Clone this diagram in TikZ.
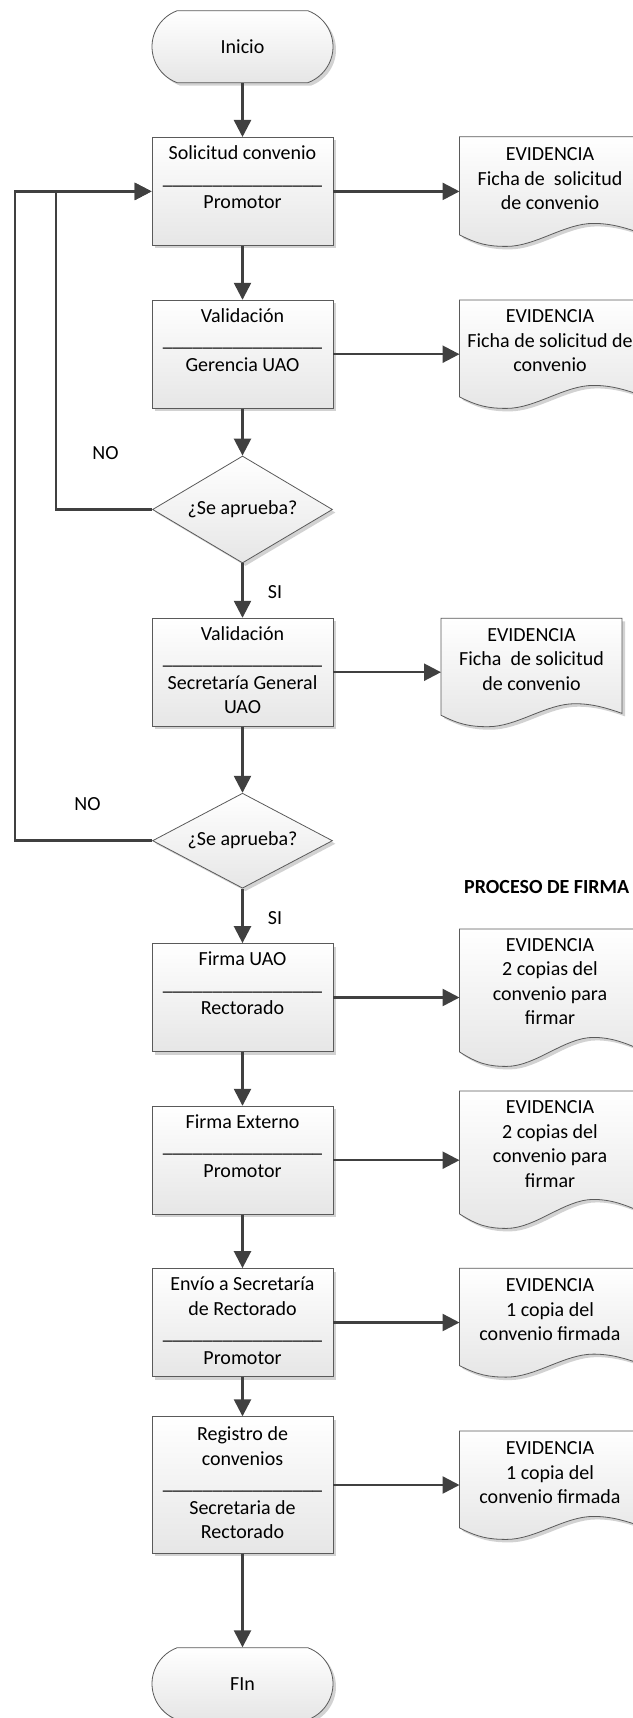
\documentclass[tikz,border=0pt]{standalone}
\usepackage{fontspec}
\setmainfont{Carlito}
\usetikzlibrary{arrows.meta,shapes.geometric,shapes.misc,shadows,backgrounds,calc}
\definecolor{edge}{HTML}{5A5A5A}
\definecolor{arr}{HTML}{404040}
\definecolor{boxbot}{HTML}{E6E6E6}
\definecolor{shadowgray}{HTML}{D2D2D2}
\newcommand{\uln}{\_\_\_\_\_\_\_\_\_\_\_\_\_\_\_\_}
% name, cx, top, H, A, s, text
\newcommand{\evidoc}[7]{%
  \node[docnode, minimum height=#4pt-2*#6pt] (#1) at (#2,#3) {\strut #7\strut};
  \coordinate (#1w) at ([xshift=-90.5pt]#1.center);
  \begin{scope}[on background layer]
  \path[docshape] ([shift={(-90.5,0)}]#1.north) -- ([shift={(90.5,0)}]#1.north)
    -- ([shift={(90.5,2*#6-0.58*#5)}]#1.south)
    .. controls ([shift={(75.98,2*#6-0.8*#5)}]#1.south) and ([shift={(61.54,2*#6-#5)}]#1.south)
    .. ([shift={(43.44,2*#6-#5)}]#1.south)
    .. controls ([shift={(14.48,2*#6-#5)}]#1.south) and ([shift={(-14.48,2*#6)}]#1.south)
    .. ([shift={(-43.44,2*#6)}]#1.south)
    .. controls ([shift={(-61.54,2*#6)}]#1.south) and ([shift={(-72.4,2*#6-0.1*#5)}]#1.south)
    .. ([shift={(-90.5,2*#6-0.5*#5)}]#1.south) -- cycle;
  \end{scope}}
\begin{document}
\begin{tikzpicture}[x=1pt,y=-1pt,
  every node/.style={font=\fontsize{20}{24.5}\selectfont},
  flowfill/.style={top color=white, bottom color=boxbot},
  softshadow/.style={drop shadow={shadow xshift=3pt,shadow yshift=-3pt,fill=shadowgray,opacity=1}},
  procbox/.style={rectangle, draw=edge, line width=0.8pt, flowfill, softshadow,
    minimum width=181pt, minimum height=108pt, inner sep=0pt, align=center},
  termbox/.style={rounded rectangle, rounded rectangle arc length=140, draw=edge, line width=0.8pt,
    flowfill, softshadow, minimum width=181pt, minimum height=72pt, inner sep=0pt},
  decbox/.style={diamond, aspect=1.7, draw=edge, line width=0.8pt, flowfill, softshadow,
    minimum width=180pt, inner sep=0pt},
  docnode/.style={rectangle, minimum width=181pt, inner sep=0pt, align=center, anchor=north},
  docshape/.style={draw=edge, line width=0.8pt, flowfill, softshadow},
  flow/.style={draw=arr, line width=2.5pt, -{Triangle[length=17pt,width=17pt]}},
  lbl/.style={inner sep=0pt}
]
\useasboundingbox (0,0) rectangle (632,1718);
\clip (0,0) rectangle (632,1718);

% main column
\node[termbox] (start) at (242.5,46.7) {Inicio};
\node[procbox] (b1) at (242.5,191.4) {\strut Solicitud convenio\\\uln\\Promotor\\\strut};
\node[procbox] (b2) at (242.5,354.2) {\strut Validación\\\uln\\Gerencia UAO\\\strut};
\node[decbox, minimum height=107pt] (d1) at (242.5,509.5) {¿Se aprueba?};
\node[procbox] (b3) at (242.5,672.2) {\strut Validación\\\uln\\Secretaría General\\UAO\strut};
\node[decbox, minimum height=95pt] (d2) at (242.5,840.7) {¿Se aprueba?};
\node[procbox] (b4) at (242.5,997.5) {\strut Firma UAO\\\uln\\Rectorado\\\strut};
\node[procbox] (b5) at (242.5,1160.2) {\strut Firma Externo\\\uln\\Promotor\\\strut};
\node[procbox] (b6) at (242.5,1322.5) {\strut Envío a Secretaría\\de Rectorado\\\uln\\Promotor\strut};
\node[procbox, minimum height=136.6pt] (b7) at (242.5,1485) {\strut Registro de\\convenios\\\uln\\Secretaria de\\Rectorado\strut};
\node[termbox] (end) at (242.5,1683.7) {FIn};

% evidence documents
\evidoc{e1}{550}{136.7}{109.3}{23}{11.3}{EVIDENCIA\\Ficha de~ solicitud\\de convenio}
\evidoc{e2}{550}{300}{108}{23}{12}{EVIDENCIA\\Ficha de solicitud de\\convenio}
\evidoc{e3}{531.5}{618.3}{108}{23}{11.5}{EVIDENCIA\\Ficha~ de solicitud\\de convenio}
\evidoc{e4}{550}{929}{137}{29}{14.5}{EVIDENCIA\\2 copias del\\convenio para\\firmar}
\evidoc{e5}{550}{1091}{137}{29}{14}{EVIDENCIA\\2 copias del\\convenio para\\firmar}
\evidoc{e6}{550}{1268.3}{108.4}{23}{11.5}{EVIDENCIA\\1 copia del\\convenio firmada}
\evidoc{e7}{550}{1431}{108}{23}{11}{EVIDENCIA\\1 copia del\\convenio firmada}

% labels
\node[lbl] (no1) at (105.5,452.7) {NO};
\node[lbl] (no2) at (87.5,804) {NO};
\node[lbl] (si1) at (275,592.3) {SI};
\node[lbl] (si2) at (275,917.7) {SI};
\node[lbl, anchor=west, font=\fontsize{20}{24.5}\selectfont\bfseries] (firma) at (464,886.7) {PROCESO DE FIRMA};

% loop-back coordinates
\coordinate (lpin) at (56,0);
\coordinate (lpout) at (15,0);

% vertical flow
\draw[flow] (start.south) -- (b1.north);
\draw[flow] (b1.south) -- (b2.north);
\draw[flow] (b2.south) -- (d1.north);
\draw[flow] (d1.south) -- (b3.north);
\draw[flow] (b3.south) -- (d2.north);
\draw[flow] (d2.south) -- (b4.north);
\draw[flow] (b4.south) -- (b5.north);
\draw[flow] (b5.south) -- (b6.north);
\draw[flow] (b6.south) -- (b7.north);
\draw[flow] (b7.south) -- (end.north);

% loops (NO)
\draw[flow] (d1.west) -| (lpin |- b1.west) -- (b1.west);
\draw[flow] (d2.west) -| (lpout |- b1.west) -- (b1.west);

% evidence arrows
\draw[flow] (b1.east) -- (b1.east -| e1w);
\draw[flow] (b2.east) -- (b2.east -| e2w);
\draw[flow] (b3.east) -- (b3.east -| e3w);
\draw[flow] (b4.east) -- (b4.east -| e4w);
\draw[flow] (b5.east) -- (b5.east -| e5w);
\draw[flow] (b6.east) -- (b6.east -| e6w);
\draw[flow] (b7.east) -- (b7.east -| e7w);
\end{tikzpicture}
\end{document}
